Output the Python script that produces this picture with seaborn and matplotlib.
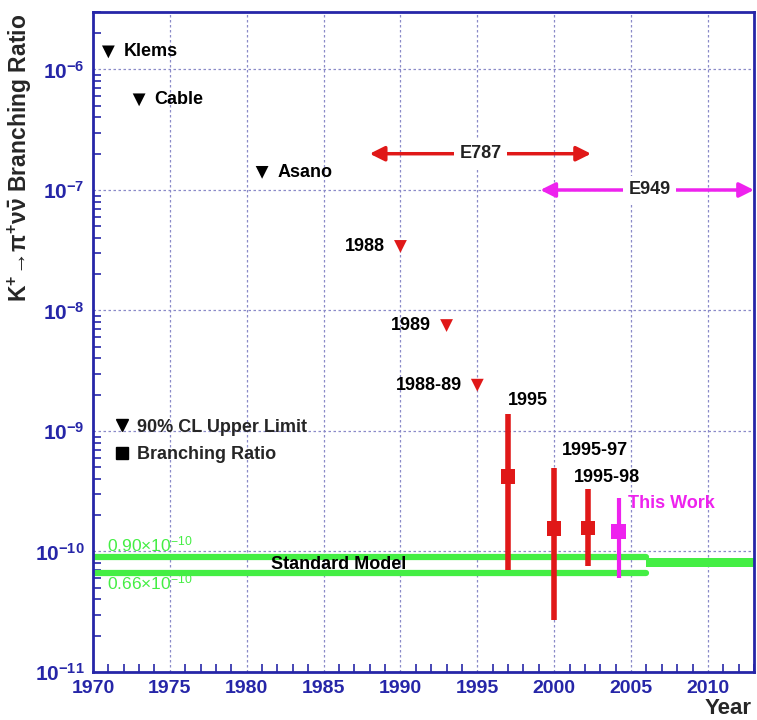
import numpy as np
import pandas as pd
import matplotlib
matplotlib.use("Agg")
import matplotlib.pyplot as plt
from matplotlib.lines import Line2D
from matplotlib.ticker import FixedLocator, LogLocator, NullFormatter, MultipleLocator
import seaborn as sns

# ---------------- data ----------------
ul_year = [1971, 1973, 1981, 1990, 1993, 1995]
ul_value = [1.4e-6, 5.6e-7, 1.4e-7, 3.4e-8, 7.5e-9, 2.4e-9]
ul_label = ["Klems", "Cable", "Asano", "1988", "1989", "1988-89"]
ul_group = ["early", "early", "early", "E787", "E787", "E787"]

br_year = [1997, 2000, 2002.2, 2004.2]
br_value = [4.2e-10, 1.55e-10, 1.57e-10, 1.47e-10]
br_high = [1.39e-9, 4.9e-10, 3.32e-10, 2.77e-10]
br_low = [0.70e-10, 0.27e-10, 0.76e-10, 0.60e-10]
br_label = ["1995", "1995-97", "1995-98", "This Work"]
br_group = ["E787", "E787", "E787", "E949"]

sm_low, sm_high = 0.66e-10, 0.90e-10
sm_future_low, sm_future_high = 0.75e-10, 0.88e-10
sm_years = [1970, 2006]
sm_future_years = [2006, 2013]

e787_span = [1988, 2002.4]
e787_level = 2.0e-7
e949_span = [1999.1, 2013]
e949_level = 1.0e-7

x_ticks = [1970, 1975, 1980, 1985, 1990, 1995, 2000, 2005, 2010]
y_ticks = [1e-11, 1e-10, 1e-9, 1e-8, 1e-7, 1e-6]
y_tick_labels = [r"$\mathbf{10^{-11}}$", r"$\mathbf{10^{-10}}$", r"$\mathbf{10^{-9}}$",
                 r"$\mathbf{10^{-8}}$", r"$\mathbf{10^{-7}}$", r"$\mathbf{10^{-6}}$"]

# ---------------- style ----------------
sns.set_theme(style="white")
plt.rcParams["font.family"] = ["Liberation Sans", "DejaVu Sans"]
plt.rcParams["mathtext.fontset"] = "custom"
plt.rcParams["mathtext.rm"] = "Liberation Sans"
plt.rcParams["mathtext.bf"] = "Liberation Sans:bold"
plt.rcParams["mathtext.it"] = "Liberation Sans:italic"

RED = "#e01818"
MAG = "#ee22ee"
GREEN = "#44ee44"
BLUE = "#2626a8"
GRID = "#8a8ac8"

fig = plt.figure(figsize=(7.57, 7.2), dpi=100)
ax = fig.add_axes([93 / 757, 48 / 720, 661 / 757, 660 / 720])
ax.set_yscale("log")
ax.set_xlim(1970, 2013)
ax.set_ylim(1e-11, 3e-6)

# grid
ax.xaxis.set_major_locator(FixedLocator(x_ticks))
ax.xaxis.set_minor_locator(MultipleLocator(1))
ax.yaxis.set_major_locator(FixedLocator(y_ticks))
ax.yaxis.set_minor_locator(LogLocator(base=10, subs=np.arange(2, 10), numticks=20))
ax.yaxis.set_minor_formatter(NullFormatter())
ax.grid(True, which="major", color=GRID, linestyle=(0, (2, 2)), linewidth=0.9)
ax.set_axisbelow(True)

for s in ax.spines.values():
    s.set_color(BLUE)
    s.set_linewidth(2)

ax.set_xticklabels([str(t) for t in x_ticks])
ax.set_yticklabels(y_tick_labels)
ax.tick_params(axis="both", which="both", direction="in", color=BLUE,
               labelcolor=BLUE, top=False, right=False)
ax.tick_params(axis="x", which="major", length=12, width=1.5, labelsize=14, pad=6)
ax.tick_params(axis="x", which="minor", length=6, width=1.2, bottom=True)
ax.tick_params(axis="y", which="major", length=12, width=1.5, labelsize=15, pad=6)
ax.tick_params(axis="y", which="minor", length=6, width=1.2, left=True)
for lbl in ax.get_xticklabels():
    lbl.set_fontweight("bold")

# Standard model band
sm_df = pd.DataFrame({"year": sm_years * 2,
                      "value": [sm_high, sm_high, sm_low, sm_low],
                      "edge": ["high", "high", "low", "low"]})
sns.lineplot(data=sm_df, x="year", y="value", units="edge", estimator=None,
             color=GREEN, linewidth=4.5, ax=ax, legend=False,
             solid_capstyle="round", zorder=2)
ax.fill_between(sm_future_years, [sm_future_low] * 2, [sm_future_high] * 2,
                color=GREEN, linewidth=0, zorder=2)
ax.text(1986, 0.785e-10, "Standard Model", ha="center", va="center",
        fontsize=13, fontweight="bold", color="black", zorder=3)
ax.text(1970.9, 1.14e-10, r"0.90$\times$10$^{-10}$", ha="left", va="center",
        fontsize=12.5, color=GREEN, zorder=3)
ax.text(1970.9, 0.55e-10, r"0.66$\times$10$^{-10}$", ha="left", va="center",
        fontsize=12.5, color=GREEN, zorder=3)

# experiment arrows
ax.annotate("", xy=(e787_span[0], e787_level), xytext=(e787_span[1], e787_level),
            arrowprops=dict(arrowstyle="<|-|>", color=RED, lw=2.5, mutation_scale=22,
                            shrinkA=0, shrinkB=0), zorder=3)
ax.text(np.mean(e787_span), e787_level, "E787", ha="center", va="center",
        fontsize=13, fontweight="bold", color="#222222", zorder=4,
        bbox=dict(facecolor="white", edgecolor="none", pad=4))
ax.annotate("", xy=(e949_span[0], e949_level), xytext=(e949_span[1], e949_level),
            arrowprops=dict(arrowstyle="<|-|>", color=MAG, lw=2.5, mutation_scale=22,
                            shrinkA=0, shrinkB=0), zorder=3)
ax.text(2006.2, e949_level, "E949", ha="center", va="center",
        fontsize=13, fontweight="bold", color="#222222", zorder=4,
        bbox=dict(facecolor="white", edgecolor="none", pad=4))

# upper limits
ul_df = pd.DataFrame({"year": ul_year, "value": ul_value, "group": ul_group})
sns.scatterplot(data=ul_df, x="year", y="value", hue="group",
                palette={"early": "black", "E787": RED}, marker="v", s=85,
                edgecolor="none", ax=ax, legend=False, zorder=5)
for x, y, t, g in zip(ul_year, ul_value, ul_label, ul_group):
    if g == "early":
        ax.text(x + 1.0, y, t, ha="left", va="center", fontsize=13,
                fontweight="bold", color="black")
    else:
        ax.text(x - 1.0, y, t, ha="right", va="center", fontsize=13,
                fontweight="bold", color="black")

# branching ratio measurements
br_colors = {"E787": RED, "E949": MAG}
for x, yv, hi, lo, g in zip(br_year, br_value, br_high, br_low, br_group):
    ax.vlines(x, lo, hi, color=br_colors[g], linewidth=4 if g == "E787" else 3, zorder=4)
br_df = pd.DataFrame({"year": br_year, "value": br_value, "group": br_group})
sns.scatterplot(data=br_df, x="year", y="value", hue="group", palette=br_colors,
                marker="s", s=110, edgecolor="none", ax=ax, legend=False, zorder=5)
label_pos = [(1998.3, 1.8e-9, "center"), (2000.5, 6.9e-10, "left"),
             (2001.3, 4.1e-10, "left"), (2004.8, 2.5e-10, "left")]
for (lx, ly, ha), t, g in zip(label_pos, br_label, br_group):
    ax.text(lx, ly, t, ha=ha, va="center", fontsize=13, fontweight="bold",
            color="black" if g == "E787" else MAG)

# legend
handles = [Line2D([], [], marker="v", color="black", linestyle="none", markersize=9),
           Line2D([], [], marker="s", color="black", linestyle="none", markersize=8)]
leg = ax.legend(handles, ["90% CL Upper Limit", "Branching Ratio"], loc="upper left",
                bbox_to_anchor=(0.02, 0.395), frameon=False, handletextpad=0.3,
                handlelength=1.0, labelspacing=0.6, borderaxespad=0,
                prop=dict(size=13, weight="bold"))

ax.set_xlabel("")
ax.set_ylabel("")
fig.text(20 / 757, 1 - 158 / 720,
         r"$\mathbf{K^{+}\!\rightarrow\!\pi^{+}\nu\bar{\nu}}$ Branching Ratio",
         rotation=90, ha="center", va="center", fontsize=16.5, fontweight="bold")
fig.text(752 / 757, 1 - 708 / 720, "Year", ha="right", va="center",
         fontsize=16, fontweight="bold")

fig.savefig("out.png", dpi=100)
